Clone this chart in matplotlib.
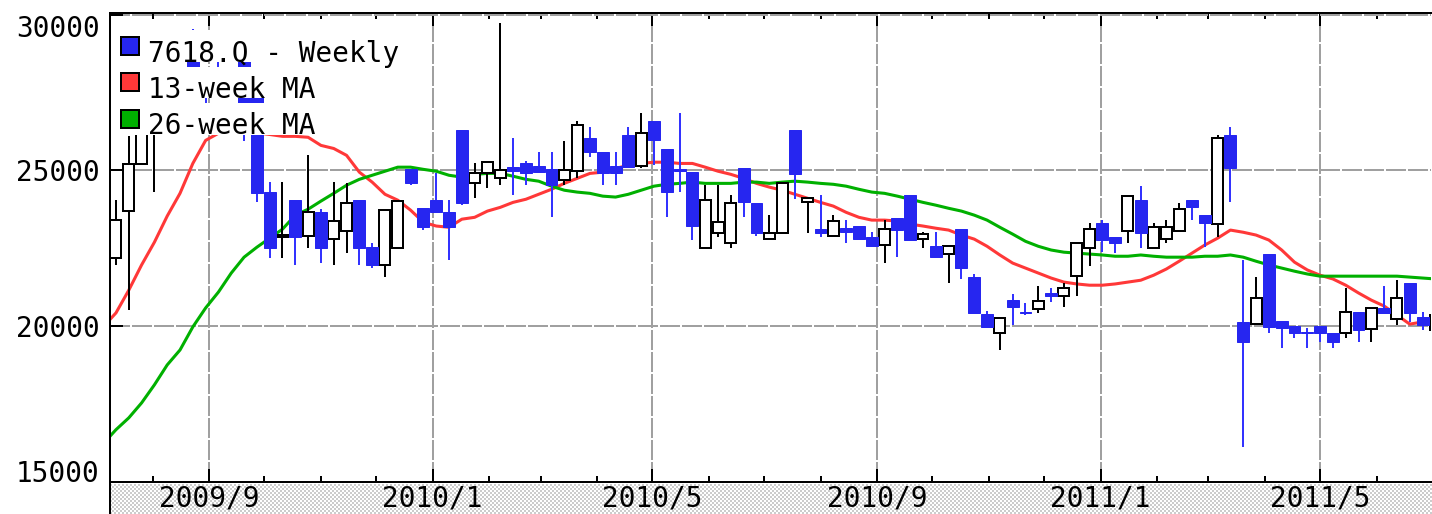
import numpy as np
import pandas as pd
import matplotlib
matplotlib.use('Agg')
import matplotlib.pyplot as plt
import matplotlib.dates as mdates
from matplotlib.patches import Rectangle

plt.rcParams['font.family'] = ['DejaVu Sans Mono']

# weekly candles
weeks = pd.date_range('2009-07-12', periods=104, freq='7D')

opens = [22180, 23690, 25190, 26300, 27350, 28000, 29000, 28200, 28100, 28000,
         28700, 27700, 24300, 22850, 24040, 22890, 23650, 22790, 23050, 24040,
         22530, 21960, 22500, 25030, 23800, 24040, 23650, 26280, 24580, 24900,
         24740, 25100, 25220, 25130, 25030, 24680, 24970, 26030, 25580, 25130,
         26120, 25130, 26570, 25670, 25030, 24940, 22500, 22980, 22660, 25060,
         23940, 22790, 22980, 26280, 23980, 23110, 22890, 23140, 23210, 22850,
         22600, 23460, 24200, 22790, 22560, 22310, 23110, 21570, 20390, 19780,
         20830, 20450, 20550, 21060, 20960, 21600, 22500, 23300, 22850, 23050,
         24040, 22500, 22790, 23050, 24040, 23560, 23270, 26120, 20130, 20060,
         22310, 20160, 20000, 19810, 20000, 19780, 19780, 20450, 19900, 20580,
         20220, 21380, 20290, 19870]

closes = [23400, 25190, 26700, 27000, 28200, 28300, 28000, 27600, 27700, 27500,
          27100, 24260, 22500, 22920, 22850, 23650, 22500, 23370, 23940, 22500,
          21960, 23720, 24010, 24580, 23170, 23650, 23170, 23940, 24900, 25260,
          25000, 24970, 24900, 24940, 24520, 25000, 26470, 25580, 24900, 24900,
          25100, 26190, 25960, 24300, 24970, 23210, 24040, 23330, 23940, 23970,
          22980, 22980, 24580, 24870, 24100, 22980, 23370, 23010, 22790, 22560,
          23110, 23080, 22760, 22950, 22210, 22560, 21860, 20420, 19970, 20260,
          20610, 20420, 20800, 20960, 21220, 22660, 23110, 22760, 22660, 24170,
          22980, 23170, 23170, 23750, 23810, 23300, 26030, 25060, 19490, 20900,
          19970, 19940, 19780, 19780, 19780, 19490, 20450, 19870, 20580, 20420,
          20900, 20420, 20030, 20350]

highs = [24040, 26100, 26900, 27100, 28300, 28320, 29550, 28300, 28700, 28200,
         28800, 28000, 24620, 24620, 24040, 25480, 23750, 24620, 24580, 24040,
         22660, 23720, 24010, 25030, 23800, 24900, 24040, 26280, 25220, 25260,
         29740, 26030, 25290, 25580, 25580, 25930, 26570, 26380, 25580, 25580,
         26380, 26830, 26570, 25670, 26830, 24940, 24520, 24520, 24200, 25060,
         23940, 23560, 24580, 26280, 24100, 24200, 23560, 23400, 23210, 23010,
         23400, 23460, 24200, 23010, 23010, 22560, 23110, 21670, 20480, 20260,
         21030, 20740, 21280, 21220, 21380, 22660, 23300, 23400, 22850, 24170,
         24490, 23300, 23400, 23940, 24040, 23560, 26120, 26380, 22120, 21570,
         22310, 20160, 20000, 19940, 20000, 19780, 21220, 20450, 20580, 21280,
         21470, 21380, 20450, 20350]

lows = [21960, 20510, 25190, 24300, 27320, 27350, 27800, 27000, 27500, 27400,
        25950, 23980, 22180, 22180, 21960, 22500, 22020, 21960, 22340, 21960,
        21860, 21570, 22500, 24520, 23080, 23650, 22120, 23880, 24100, 24420,
        24520, 24200, 24520, 24900, 23490, 24520, 24740, 25420, 24520, 24520,
        25100, 25060, 25160, 23490, 24300, 22760, 22500, 22850, 22500, 23490,
        22890, 22790, 22980, 24070, 22980, 22850, 22890, 22660, 22790, 22560,
        22020, 22210, 22760, 22500, 22210, 21380, 21510, 20420, 19970, 19230,
        20030, 20350, 20420, 20770, 20610, 20960, 21920, 22370, 22340, 22660,
        22500, 22500, 22660, 23050, 23400, 22530, 22850, 23970, 16120, 20060,
        19780, 19300, 19620, 19300, 19490, 19300, 19620, 19490, 19490, 20420,
        20030, 20130, 19870, 19620]

# moving averages (one week earlier start so the lines reach the axis)
ma_weeks = pd.date_range('2009-07-05', periods=105, freq='7D')

ma13 = [19970, 20420, 21150, 21960, 22690, 23530, 24260, 25220, 25960, 26190,
        26250, 26250, 26200, 26150, 26090, 26090, 26060, 25800, 25700, 25480,
        24940, 24620, 24230, 24040, 23720, 23330, 23210, 23170, 23430, 23490,
        23690, 23810, 23970, 24070, 24230, 24390, 24580, 24740, 24900, 24940,
        25060, 25160, 25220, 25260, 25260, 25220, 25220, 25100, 24970, 24870,
        24740, 24580, 24460, 24360, 24230, 24100, 23970, 23850, 23650, 23490,
        23400, 23400, 23370, 23270, 23210, 23140, 23080, 22920, 22790, 22560,
        22280, 22020, 21860, 21700, 21540, 21410, 21350, 21310, 21310, 21350,
        21410, 21470, 21630, 21830, 22080, 22340, 22600, 22820, 23080, 23010,
        22920, 22760, 22440, 22050, 21800, 21630, 21510, 21310, 21060, 20830,
        20640, 20350, 20060, 20130, 20160]

ma26 = [16220, 16670, 17050, 17530, 18110, 18750, 19230, 19970, 20580, 21090,
        21700, 22210, 22530, 22820, 23110, 23560, 23750, 24010, 24260, 24520,
        24710, 24840, 24970, 25100, 25100, 25030, 24970, 24840, 24780, 24870,
        24900, 24900, 24810, 24710, 24650, 24490, 24360, 24300, 24260, 24170,
        24140, 24230, 24360, 24490, 24550, 24580, 24620, 24580, 24580, 24580,
        24620, 24620, 24580, 24620, 24650, 24620, 24580, 24550, 24490, 24390,
        24300, 24260, 24170, 24070, 23970, 23880, 23780, 23690, 23560, 23400,
        23170, 22950, 22720, 22560, 22440, 22370, 22340, 22310, 22280, 22240,
        22240, 22280, 22240, 22210, 22210, 22210, 22240, 22240, 22280, 22210,
        22080, 21960, 21860, 21760, 21670, 21600, 21600, 21600, 21600, 21600,
        21600, 21600, 21570, 21540, 21510]

legend_labels = ['7618.Q - Weekly', '13-week MA', '26-week MA']
y_ticks = [15000, 20000, 25000, 30000]
x_major = pd.to_datetime(['2009-09-01', '2010-01-01', '2010-05-01',
                          '2010-09-01', '2011-01-01', '2011-05-01'])
x_labels = ['2009/9', '2010/1', '2010/5', '2010/9', '2011/1', '2011/5']

BLUE = '#2626f0'
BLUE_WICK = '#3333ff'
RED = '#ff3838'
GREEN = '#00b000'
GRID = '#a0a0a0'

W, H = 1432, 514
fig = plt.figure(figsize=(W / 100, H / 100), dpi=100)

# checkered band under the plot
band = fig.add_axes([110 / W, 0, (W - 110) / W, 30 / H])
band.set_zorder(0)
rows, cols = 15, 661
checker = np.indices((rows, cols)).sum(axis=0) % 2
band.imshow(np.where(checker == 0, 0.80, 1.0), cmap='gray', vmin=0, vmax=1,
            aspect='auto', interpolation='nearest')
band.set_xticks([])
band.set_yticks([])
for s in ['top', 'right', 'bottom']:
    band.spines[s].set_visible(False)
band.spines['left'].set_linewidth(1.44)

ax = fig.add_axes([110 / W, (H - 481.7) / H, (1431 - 110) / W, (481.7 - 12.5) / H])
ax.set_zorder(1)

x = mdates.date2num(weeks)
o = np.array(opens)
c = np.array(closes)
hi = np.array(highs)
lo = np.array(lows)
up = c >= o

xm = mdates.date2num(ma_weeks)
ax.plot(xm, ma13, color=RED, lw=2.2, zorder=2)
ax.plot(xm, ma26, color=GREEN, lw=2.2, zorder=2)

ax.vlines(x[up], lo[up], hi[up], color='black', lw=1.44, zorder=3)
ax.vlines(x[~up], lo[~up], hi[~up], color=BLUE_WICK, lw=1.44, zorder=3)
ax.bar(x[up], (c - o)[up], bottom=o[up], width=6.0, facecolor='white',
       edgecolor='black', lw=1.44, zorder=4)
ax.bar(x[~up], (o - c)[~up], bottom=c[~up], width=6.5, facecolor=BLUE,
       edgecolor=BLUE, lw=0.72, zorder=4)

x_sep = mdates.date2num(pd.Timestamp('2009-09-01'))
ax.set_xlim(x_sep - 54.26, x_sep + 667.6)
ax.set_ylim(15000, 30067)

ax.set_xticks(mdates.date2num(x_major), x_labels)
ax.xaxis.set_minor_locator(mdates.MonthLocator())
ax.set_yticks(y_ticks, [str(v) for v in y_ticks])
ax.tick_params(axis='x', which='major', direction='in', length=9.4, width=1.44,
               top=True, labelsize=20, pad=2.0)
ax.tick_params(axis='x', which='minor', direction='in', length=4.3, width=1.44,
               top=True)
ax.tick_params(axis='y', which='major', direction='in', length=9.0, width=1.44,
               labelsize=20, pad=7.5)
yl = ax.get_yticklabels()
yl[0].set_va('baseline')
yl[-1].set_va('top')

ax.grid(True, which='major', color=GRID, lw=1.44, linestyle=(0, (10, 1)))
ax.set_axisbelow(True)
for s in ['top', 'bottom', 'left']:
    ax.spines[s].set_linewidth(1.44)
ax.spines['right'].set_visible(False)

# legend rows: white strips over the candles, a square key and the label
def fx(px):
    return px / W

def fy(py):
    return 1 - py / H

row_tops = [30, 67, 103]
row_bottoms = [62, 98, 135]
row_ends = [402, 318, 318]
keys = [BLUE, RED, GREEN]
for lab, col, t, b, e in zip(legend_labels, keys, row_tops, row_bottoms, row_ends):
    ax.add_patch(Rectangle((fx(112), fy(b)), fx(e - 112), (b - t) / H,
                           transform=fig.transFigure, facecolor='white',
                           edgecolor='none', zorder=10, clip_on=False))
    ax.add_patch(Rectangle((fx(121), fy(b - 7)), fx(18), 18 / H,
                           transform=fig.transFigure, facecolor=col,
                           edgecolor='black', lw=1.44, zorder=11, clip_on=False))
    ax.text(fx(148), fy(b - 0.5), lab, transform=fig.transFigure, fontsize=20,
            va='baseline', ha='left', zorder=12)

fig.savefig('out.png', dpi=100)
